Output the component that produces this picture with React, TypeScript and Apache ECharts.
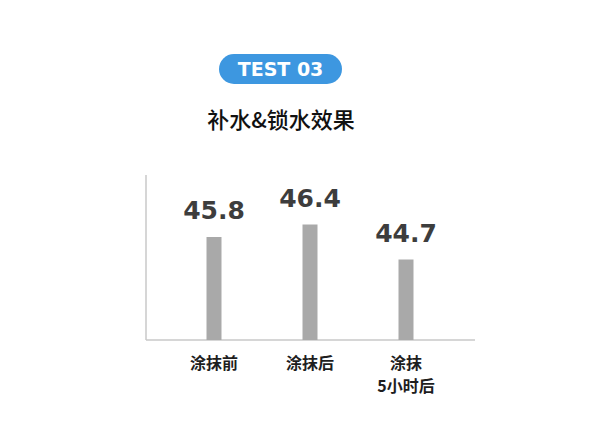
import React, { useEffect, useRef } from 'react';
import * as echarts from 'echarts';

const categories = ['涂抹前', '涂抹后', '涂抹\n5小时后'];
const values = [45.8, 46.4, 44.7];

const App: React.FC = () => {
  const chartRef = useRef<HTMLDivElement>(null);

  useEffect(() => {
    document.body.style.margin = '0';
    const chart = echarts.init(chartRef.current!, null, { renderer: 'svg' });

    const options = {
      animation: false,
      backgroundColor: '#ffffff',
      grid: { left: 166, right: 146, top: 175, bottom: 84 },
      graphic: [
        // badge
        {
          type: 'rect',
          shape: { x: 219, y: 54, width: 123, height: 30, r: 15 },
          style: { fill: '#3d97e0' },
        },
        {
          type: 'text',
          x: 280.5,
          y: 69,
          style: {
            text: 'TEST 03',
            fill: '#ffffff',
            font: 'bold 19px "DejaVu Sans"',
            align: 'center',
            verticalAlign: 'middle',
          },
        },
        {
          type: 'text',
          x: 281,
          y: 118,
          style: {
            text: '补水&锁水效果',
            fill: '#111111',
            font: '500 22px "Noto Sans CJK SC"',
            align: 'center',
            verticalAlign: 'middle',
          },
        },
        // axes
        {
          type: 'line',
          shape: { x1: 146, y1: 175, x2: 146, y2: 340 },
          style: { stroke: '#c9c9c9', lineWidth: 1.5 },
        },
        {
          type: 'line',
          shape: { x1: 146, y1: 340, x2: 475, y2: 340 },
          style: { stroke: '#c9c9c9', lineWidth: 1.5 },
        },
      ],
      xAxis: {
        type: 'category',
        data: categories,
        axisLine: { show: false },
        axisTick: { show: false },
        axisLabel: {
          margin: 10,
          color: '#1e1e1e',
          fontSize: 16,
          fontWeight: 'bold',
          lineHeight: 23,
          fontFamily: '"Noto Sans CJK SC"',
        },
      },
      yAxis: {
        type: 'value',
        min: 40.8,
        max: 48.8,
        show: false,
        splitLine: { show: false },
      },
      series: [
        {
          type: 'bar',
          data: values,
          barWidth: 15,
          itemStyle: { color: '#a9a9a9' },
          label: {
            show: true,
            position: 'top',
            distance: 14,
            color: '#3d3d3d',
            fontSize: 25,
            fontWeight: 'bold',
            fontFamily: '"DejaVu Sans"',
          },
        },
      ],
    };

    chart.setOption(options);

    return () => {
      chart.dispose();
    };
  }, []);

  return <div ref={chartRef} style={{ width: '600px', height: '424px' }} />;
};

export default App;
